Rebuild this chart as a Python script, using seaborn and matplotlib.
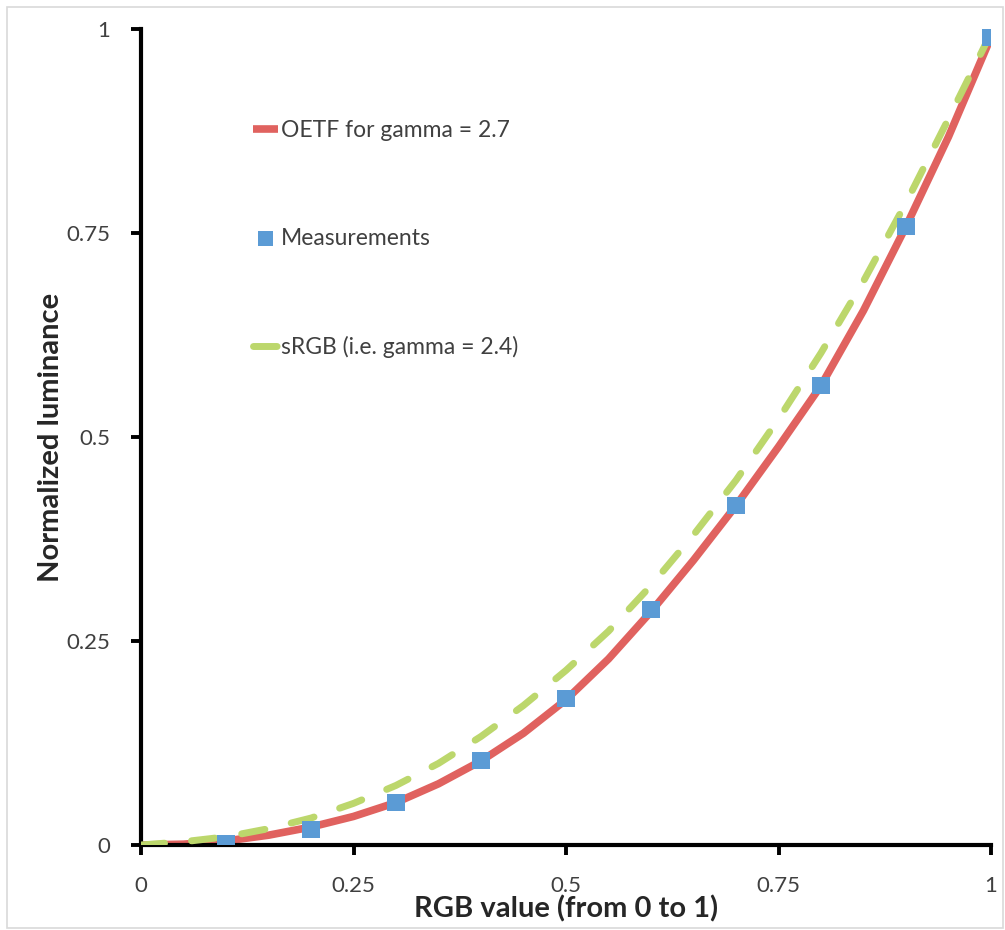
import matplotlib
matplotlib.use("Agg")
import matplotlib.pyplot as plt
import seaborn as sns
import pandas as pd
from matplotlib.patches import Rectangle

# values
rgb = [0.0, 0.05, 0.1, 0.15, 0.2, 0.25, 0.3, 0.35, 0.4, 0.45, 0.5,
       0.55, 0.6, 0.65, 0.7, 0.75, 0.8, 0.85, 0.9, 0.95, 1.0]
oetf_27 = [0.0, 0.001, 0.005, 0.012, 0.022, 0.035, 0.052, 0.075, 0.103, 0.137, 0.178,
           0.228, 0.286, 0.349, 0.416, 0.488, 0.563, 0.655, 0.758, 0.868, 0.99]
srgb = [0.0, 0.004, 0.010, 0.020, 0.033, 0.051, 0.073, 0.100, 0.133, 0.171, 0.214,
        0.262, 0.318, 0.380, 0.447, 0.522, 0.603, 0.691, 0.787, 0.890, 0.995]
meas_x = [0.1, 0.2, 0.3, 0.4, 0.5, 0.6, 0.7, 0.8, 0.9, 1.0]
meas_y = [0.002, 0.019, 0.052, 0.104, 0.179, 0.289, 0.416, 0.563, 0.758, 0.989]
ticks = [0, 0.25, 0.5, 0.75, 1]
tick_labels = ["0", "0.25", "0.5", "0.75", "1"]

sns.set_style("white")
plt.rcParams['font.family'] = ['Lato', 'DejaVu Sans']

curves = pd.DataFrame({"x": rgb, "oetf": oetf_27, "srgb": srgb})
meas = pd.DataFrame({"x": meas_x, "y": meas_y})

fig = plt.figure(figsize=(10.05, 9.30), dpi=100)
ax = fig.add_axes([141 / 1005, 1 - 845 / 930, 850 / 1005, 816 / 930])

red = "#e0625f"
green = "#bcd76c"
blue = "#5b9bd5"

sns.lineplot(data=curves, x="x", y="oetf", ax=ax, color=red, lw=5.5,
             label="OETF for gamma = 2.7", zorder=2)
sns.lineplot(data=curves, x="x", y="srgb", ax=ax, color=green, lw=5,
             label="sRGB (i.e. gamma = 2.4)", zorder=3)
ax.lines[1].set_dashes((3.4, 3.9))
ax.lines[1].set_dash_capstyle("round")
ax.lines[0].set_solid_capstyle("butt")
ax.lines[0].set_solid_joinstyle("round")
sns.scatterplot(data=meas, x="x", y="y", ax=ax, marker="s", s=150, color=blue,
                edgecolor="none", label="Measurements", zorder=4)

ax.set_xlim(0, 1)
ax.set_ylim(0, 1)
ax.set_xticks(ticks)
ax.set_xticklabels(tick_labels)
ax.set_yticks(ticks)
ax.set_yticklabels(tick_labels)
for s in ["top", "right"]:
    ax.spines[s].set_visible(False)
for s in ["left", "bottom"]:
    ax.spines[s].set_linewidth(3)
    ax.spines[s].set_color("black")
    ax.spines[s].set_capstyle("projecting")
ax.tick_params(axis="both", direction="out", length=7, width=2.8, color="black",
               labelsize=16, labelcolor="#404040", bottom=True, left=True)
ax.tick_params(axis="x", pad=15)
ax.tick_params(axis="y", pad=15)
for t in ax.get_xticklines() + ax.get_yticklines():
    t.set_clip_on(False)

ax.set_xlabel("RGB value (from 0 to 1)", fontsize=21, fontweight="bold", labelpad=0)
ax.set_ylabel("Normalized luminance", fontsize=21, fontweight="bold", labelpad=2)

h, l = ax.get_legend_handles_labels()
order = [l.index("OETF for gamma = 2.7"), l.index("Measurements"), l.index("sRGB (i.e. gamma = 2.4)")]
leg = ax.legend([h[i] for i in order], [l[i] for i in order], loc="upper left",
                bbox_to_anchor=(0.121, 0.9), frameon=False, fontsize=16.5,
                labelspacing=3.8, handlelength=1.1, handletextpad=0.1,
                markerscale=0.9, borderaxespad=0)
for t in leg.get_texts():
    t.set_color("#404040")

fig.patches.append(Rectangle((7 / 1005, 2 / 930), 996 / 1005, 921 / 930,
                             transform=fig.transFigure, fill=False,
                             edgecolor="#d9d9d9", lw=1.2))

fig.savefig("out.png", dpi=100)
